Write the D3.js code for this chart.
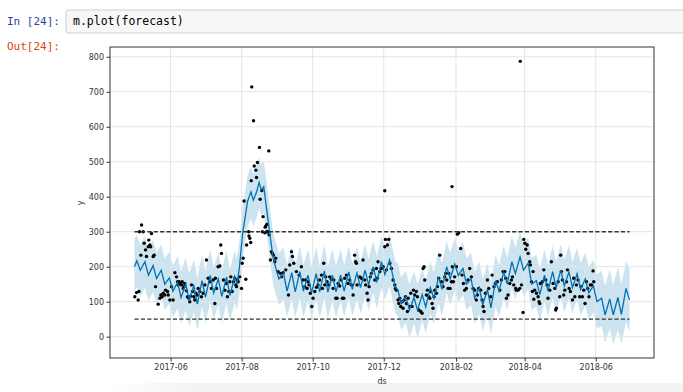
<!DOCTYPE html>
<html>
<head>
<meta charset="utf-8">
<script src="https://cdn.jsdelivr.net/npm/d3@7"></script>
<style>
  body { margin: 0; background: #fff; }
</style>
</head>
<body>
<svg id="svg1" width="683" height="392"></svg>
<script>
// ---- values ----
var startDate = "2017-05-01";   // day 0 of the series
var capValue = 300;
var floorValue = 50;
var capEndDay = 425;

// forecast line + uncertainty band (vertices, day offsets from startDate)
var fcDay = [0, 2, 5, 9, 12, 16, 19, 23, 26, 30, 33, 37, 40, 44, 47, 51, 54, 58, 61, 65, 68, 72, 75, 79, 82, 86, 88, 90,
    93, 95, 97, 100, 102, 105, 107, 109, 111, 113, 116, 119, 121, 124, 128, 131, 135, 138, 142, 145, 149, 152, 156, 159,
    163, 166, 170, 173, 177, 180, 184, 187, 191, 194, 198, 201, 205, 208, 212, 215, 219, 222, 224, 226, 229, 233, 236,
    240, 243, 247, 250, 254, 257, 261, 264, 268, 271, 275, 278, 282, 285, 289, 292, 296, 299, 303, 306, 310, 313, 317,
    320, 324, 327, 331, 334, 338, 341, 345, 348, 352, 355, 359, 362, 366, 369, 373, 376, 380, 383, 387, 390, 394, 397,
    401, 404, 408, 411, 415, 418, 422, 425];
var fcYhat = [200, 217, 190, 214, 176, 203, 166, 190, 150, 168, 130, 155, 112, 150, 105, 145, 93, 160, 113, 175, 125, 165, 115, 170, 118, 172, 150, 195,
    300, 340, 386, 414, 390, 415, 441, 419, 429, 376, 300, 225, 200, 165, 180, 130, 183, 128, 186, 130, 176, 125, 180, 128,
    188, 127, 176, 128, 176, 130, 185, 135, 182, 140, 190, 148, 200, 155, 214, 178, 219, 170, 140, 135, 95, 115, 76,
    112, 75, 120, 85, 140, 110, 170, 135, 200, 165, 208, 175, 195, 150, 165, 110, 140, 90, 135, 82, 160, 130, 185,
    150, 214, 180, 228, 190, 210, 150, 160, 120, 176, 130, 186, 140, 190, 145, 185, 140, 180, 135, 165, 125, 145, 100,
    110, 62, 108, 62, 112, 64, 138, 105];
var fcLower = [125, 142, 115, 140, 102, 128, 92, 116, 76, 94, 55, 80, 38, 76, 30, 70, 18, 85, 38, 100, 50, 90, 40, 96, 44, 98, 76, 120,
    225, 266, 312, 340, 316, 342, 368, 345, 355, 302, 226, 150, 126, 90, 106, 56, 108, 54, 112, 55, 102, 50, 106, 54,
    113, 52, 102, 54, 101, 56, 110, 60, 108, 66, 115, 74, 126, 80, 140, 104, 145, 96, 66, 60, 20, 40, -4,
    38, -6, 46, 10, 66, 36, 96, 60, 126, 90, 134, 100, 120, 76, 90, 36, 66, 16, 60, 8, 86, 56, 110,
    76, 140, 106, 154, 116, 136, 76, 86, 46, 102, 56, 112, 66, 116, 70, 110, 66, 106, 60, 90, 50, 70, 24,
    30, -16, 22, -22, 20, -20, 42, 12];
var fcUpper = [280, 290, 262, 288, 250, 276, 240, 264, 224, 243, 204, 230, 186, 225, 180, 220, 168, 234, 188, 250, 198, 240, 190, 245, 192, 246, 224, 270,
    374, 414, 460, 488, 464, 490, 512, 492, 503, 452, 374, 300, 274, 240, 254, 205, 258, 202, 260, 204, 250, 200, 255, 202,
    262, 202, 250, 203, 250, 205, 260, 210, 256, 215, 264, 222, 275, 230, 288, 252, 294, 245, 215, 210, 170, 190, 150,
    186, 150, 194, 160, 214, 184, 244, 210, 274, 240, 282, 250, 270, 224, 240, 184, 214, 164, 210, 156, 234, 204, 260,
    224, 288, 254, 302, 264, 284, 224, 234, 194, 250, 204, 260, 214, 264, 220, 260, 214, 254, 210, 240, 200, 220, 176,
    190, 145, 192, 148, 198, 150, 215, 195];

// observed points (day offset, value)
var obsDay = [0.3, 1.8, 3.2, 3.8, 4.3, 5.5, 6.1, 7.5, 8.3, 9.5, 10.3, 11.8, 12.3, 13.2, 14.0, 14.6, 16.1, 16.9, 18.1, 20.4,
    21.8, 22.7, 23.8, 24.7, 26.1, 26.7, 28.4, 29.0, 30.4, 31.8, 33.2, 34.7, 36.1, 37.0, 37.5, 38.4, 39.2, 40.4, 41.0, 41.8,
    42.7, 43.2, 44.7, 45.5, 46.7, 47.5, 48.4, 49.0, 49.8, 51.0, 51.8, 52.7, 53.8, 54.7, 56.1, 57.5, 59.0, 60.4, 61.8, 63.3,
    64.7, 66.1, 67.6, 69.0, 69.5, 70.4, 71.8, 73.3, 74.1, 74.7, 76.4, 77.6, 79.0, 79.8, 81.0, 81.9, 82.7, 83.9, 85.0, 86.1,
    87.0, 87.6, 88.4, 89.0, 90.4, 91.9, 92.5, 93.3, 94.1, 95.6, 96.3, 98.0, 98.3, 99.0, 99.8, 100.2, 100.7, 102.2, 102.8, 104.2,
    104.8, 105.6, 107.3, 107.9, 109.3, 109.9, 110.4, 111.9, 112.2, 112.7, 113.3, 113.6, 114.5, 115.3, 115.6, 116.7, 117.6, 118.5, 119.3, 120.5,
    121.3, 123.3, 125.3, 126.2, 127.6, 129.9, 132.2, 133.3, 134.8, 135.6, 136.8, 139.0, 141.3, 143.3, 144.7, 146.2, 147.0, 148.2, 149.0, 149.9,
    151.0, 152.2, 153.3, 154.8, 156.2, 157.6, 159.0, 160.5, 161.3, 162.5, 163.4, 164.2, 165.4, 166.8, 167.6, 169.1, 170.5, 171.1, 172.8, 173.9,
    174.8, 176.2, 177.4, 178.5, 179.7, 180.5, 182.0, 183.4, 184.8, 186.2, 187.7, 189.0, 189.9, 190.5, 191.1, 193.4, 194.8, 196.2, 197.7, 198.5,
    199.7, 200.5, 201.4, 202.5, 203.4, 204.8, 206.3, 207.7, 208.4, 209.1, 210.6, 212.0, 213.5, 214.9, 214.9, 215.5, 216.3, 217.2, 218.3, 219.2,
    220.6, 222.0, 223.5, 224.0, 224.9, 226.3, 226.9, 227.8, 228.6, 229.8, 230.6, 231.5, 232.6, 233.5, 234.3, 234.9, 236.3, 237.2, 238.3, 239.5,
    240.6, 242.0, 242.9, 244.1, 245.8, 246.9, 247.8, 248.6, 249.2, 250.6, 251.5, 252.6, 253.5, 254.3, 255.5, 256.3, 257.2, 257.8, 259.2, 260.1,
    261.2, 262.1, 263.5, 264.9, 266.4, 267.2, 268.1, 269.2, 269.8, 270.9, 272.1, 272.6, 272.9, 273.8, 274.9, 276.4, 277.2, 278.4, 280.1, 281.2,
    282.4, 283.5, 284.9, 286.4, 287.8, 289.2, 290.7, 292.1, 293.5, 294.4, 295.5, 297.2, 298.4, 299.3, 300.1, 301.3, 303.0, 304.1, 305.8, 307.0,
    308.7, 309.8, 311.5, 313.6, 315.0, 316.4, 317.9, 318.7, 319.3, 320.7, 322.2, 323.6, 324.5, 325.6, 327.3, 327.9, 329.3, 330.8, 331.2, 332.2,
    333.6, 334.2, 335.1, 335.9, 337.1, 337.9, 339.3, 339.9, 340.8, 341.6, 342.2, 342.8, 343.6, 345.1, 346.5, 347.3, 347.9, 348.5, 350.2, 351.4,
    353.1, 354.2, 355.0, 356.5, 357.9, 359.4, 360.8, 361.6, 362.2, 363.7, 365.1, 365.9, 366.5, 367.4, 368.5, 369.4, 370.8, 371.7, 373.1, 374.2,
    376.0, 377.1, 378.0, 379.4, 380.8, 382.2, 383.4, 384.5, 385.7, 386.8, 388.0, 389.1, 390.2, 391.4, 392.3, 393.7, 394.3];
var obsValue = [114, 126, 105, 129, 300, 233, 319, 300, 267, 248, 229, 257, 276, 262, 257, 295, 229, 233, 143, 93,
    110, 119, 114, 124, 119, 133, 129, 119, 105, 143, 105, 183, 171, 157, 148, 157, 152, 148, 157, 138,
    143, 152, 131, 114, 110, 100, 116, 148, 129, 114, 105, 124, 119, 138, 129, 114, 124, 148, 219, 167,
    157, 138, 162, 95, 167, 138, 200, 202, 262, 238, 162, 133, 152, 114, 129, 157, 171, 129, 157, 167,
    148, 143, 162, 157, 171, 138, 210, 224, 388, 164, 262, 300, 288, 281, 269, 446, 714, 617, 488, 476,
    455, 498, 541, 393, 418, 300, 343, 297, 313, 316, 300, 321, 300, 531, 291, 219, 243, 238, 233, 214,
    224, 186, 181, 171, 183, 191, 119, 205, 243, 229, 210, 186, 176, 200, 162, 143, 162, 138, 157, 148,
    124, 86, 110, 129, 141, 148, 162, 176, 138, 210, 148, 171, 157, 148, 171, 164, 138, 162, 110, 110,
    152, 145, 162, 110, 110, 167, 176, 152, 162, 148, 119, 233, 214, 210, 148, 171, 167, 219, 162, 148,
    124, 105, 143, 171, 181, 191, 162, 195, 167, 214, 186, 195, 200, 257, 417, 278, 191, 262, 278, 210,
    195, 162, 148, 138, 133, 105, 95, 110, 86, 100, 81, 105, 114, 95, 72, 110, 86, 124, 86, 133,
    119, 129, 114, 76, 72, 67, 195, 200, 162, 119, 133, 114, 110, 129, 95, 81, 114, 133, 124, 143,
    167, 233, 157, 143, 171, 181, 162, 138, 181, 138, 157, 429, 200, 157, 171, 200, 293, 297, 252, 176,
    152, 133, 138, 162, 195, 171, 138, 133, 105, 119, 138, 133, 105, 86, 72, 124, 162, 138, 114, 176,
    143, 152, 157, 133, 162, 186, 186, 167, 110, 119, 152, 162, 171, 148, 138, 133, 133, 138, 787, 148,
    69, 278, 267, 250, 262, 238, 214, 205, 157, 129, 186, 107, 133, 124, 114, 100, 95, 152, 157, 191,
    162, 148, 110, 133, 214, 152, 138, 76, 81, 157, 114, 233, 186, 162, 119, 133, 157, 191, 138, 129,
    105, 167, 114, 148, 162, 114, 143, 114, 133, 95, 157, 138, 114, 148, 148, 188, 157];

var xTickLabels = ["2017-06", "2017-08", "2017-10", "2017-12", "2018-02", "2018-04", "2018-06"];
var yTickValues = [0, 100, 200, 300, 400, 500, 600, 700, 800];
var xDomain = ["2017-04-10", "2018-07-21"];
var yDomain = [-61, 828];

var parseDay = d3.timeParse("%Y-%m-%d");
var parseMonth = d3.timeParse("%Y-%m");
var day0 = parseDay(startDate);

// day offset -> Date
function dayToDate(d) {
    return new Date(day0.getTime() + d * 864e5);
}

// Method to get the x-scale
function getScaleX() {
    return d3.scaleTime()
        .domain(xDomain.map(parseDay))
        .range([110, 654]);
}

// Method to get the y-scale
function getScaleY() {
    return d3.scaleLinear()
        .domain(yDomain)
        .range([358, 47]);
}

// the notebook cell around the figure
function drawNotebook(svg) {
    var mono = "'DejaVu Sans Mono', 'Liberation Mono', monospace";
    svg.append("rect")
        .attr("x", 66).attr("y", 10)
        .attr("width", 640).attr("height", 23)
        .attr("rx", 2)
        .attr("fill", "#f7f7f7")
        .attr("stroke", "#cfcfcf");
    svg.append("text")
        .attr("x", 7).attr("y", 25)
        .attr("font-family", mono).attr("font-size", "11px")
        .attr("fill", "#303F9F")
        .text("In [24]:");
    svg.append("text")
        .attr("x", 73).attr("y", 25)
        .attr("font-family", mono).attr("font-size", "11.5px")
        .attr("fill", "#000")
        .text("m.plot(forecast)");
    svg.append("text")
        .attr("x", 7).attr("y", 50)
        .attr("font-family", mono).attr("font-size", "11px")
        .attr("fill", "#D84315")
        .text("Out[24]:");

    // faint shadow strip under the output
    var grad = svg.append("defs").append("linearGradient")
        .attr("id", "shade").attr("x1", 0).attr("x2", 1);
    grad.append("stop").attr("offset", 0).attr("stop-color", "#fff");
    grad.append("stop").attr("offset", 0.15).attr("stop-color", "#f3f3f3");
    grad.append("stop").attr("offset", 1).attr("stop-color", "#f3f3f3");
    svg.append("rect")
        .attr("x", 110).attr("y", 383)
        .attr("width", 573).attr("height", 9)
        .attr("fill", "url(#shade)");
}

function drawChart(svg) {
    var scaleX = getScaleX();
    var scaleY = getScaleY();
    var xTicks = xTickLabels.map(parseMonth);

    var fc = fcDay.map((d, i) => ({date: dayToDate(d), yhat: fcYhat[i], lo: fcLower[i], hi: fcUpper[i]}));
    var obs = obsDay.map((d, i) => ({date: dayToDate(d), value: obsValue[i]}));

    // uncertainty band
    var area = d3.area()
        .x(d => scaleX(d.date))
        .y0(d => scaleY(d.lo))
        .y1(d => scaleY(d.hi));
    svg.append("path")
        .datum(fc)
        .attr("fill", "#0072B2")
        .attr("fill-opacity", 0.2)
        .attr("d", area);

    // grid
    var grid = svg.append("g").attr("stroke", "#e4e4e4").attr("stroke-width", 1);
    grid.selectAll(".gx").data(xTicks).enter().append("line")
        .attr("x1", d => scaleX(d)).attr("x2", d => scaleX(d))
        .attr("y1", 47).attr("y2", 358);
    grid.selectAll(".gy").data(yTickValues).enter().append("line")
        .attr("x1", 110).attr("x2", 654)
        .attr("y1", d => scaleY(d)).attr("y2", d => scaleY(d));

    // observed points
    svg.append("g").selectAll("circle")
        .data(obs)
        .enter()
        .append("circle")
        .attr("cx", d => scaleX(d.date))
        .attr("cy", d => scaleY(d.value))
        .attr("r", 1.7)
        .attr("fill", "#000");

    // forecast line
    var line = d3.line()
        .x(d => scaleX(d.date))
        .y(d => scaleY(d.yhat));
    svg.append("path")
        .datum(fc)
        .attr("fill", "none")
        .attr("stroke", "#0072B2")
        .attr("stroke-width", 1.3)
        .attr("d", line);

    // cap and floor
    [capValue, floorValue].forEach(function(v) {
        svg.append("line")
            .attr("x1", scaleX(dayToDate(0)))
            .attr("x2", scaleX(dayToDate(capEndDay)))
            .attr("y1", scaleY(v)).attr("y2", scaleY(v))
            .attr("stroke", "#333")
            .attr("stroke-width", 1.4)
            .attr("stroke-dasharray", "4.2,2.2");
    });

    // frame
    svg.append("rect")
        .attr("x", 110).attr("y", 47)
        .attr("width", 544).attr("height", 311)
        .attr("fill", "none")
        .attr("stroke", "#333")
        .attr("stroke-width", 1);

    var font = "'DejaVu Sans', sans-serif";

    var xAxis = d3.axisBottom(scaleX)
        .tickValues(xTicks)
        .tickFormat(d3.timeFormat("%Y-%m"))
        .tickSize(3.5)
        .tickPadding(2.5);
    var yAxis = d3.axisLeft(scaleY)
        .tickValues(yTickValues)
        .tickSize(3.5)
        .tickPadding(2.5);

    var gX = svg.append("g")
        .attr("transform", "translate(0,358)")
        .call(xAxis);
    var gY = svg.append("g")
        .attr("transform", "translate(110,0)")
        .call(yAxis);
    [gX, gY].forEach(function(g) {
        g.select(".domain").remove();
        g.selectAll(".tick line").attr("stroke", "#333");
        g.selectAll(".tick text")
            .attr("fill", "#333")
            .attr("font-family", font)
            .attr("font-size", "8px");
    });

    // axis titles
    svg.append("text")
        .attr("x", 382).attr("y", 384)
        .attr("text-anchor", "middle")
        .attr("font-family", font).attr("font-size", "8px")
        .attr("fill", "#333")
        .text("ds");
    svg.append("text")
        .attr("transform", "translate(83,203) rotate(-90)")
        .attr("text-anchor", "middle")
        .attr("font-family", font).attr("font-size", "8px")
        .attr("fill", "#333")
        .text("y");
}

function main() {
    var svg = d3.select("#svg1");
    drawNotebook(svg);
    drawChart(svg);
}

main();
</script>
</body>
</html>
